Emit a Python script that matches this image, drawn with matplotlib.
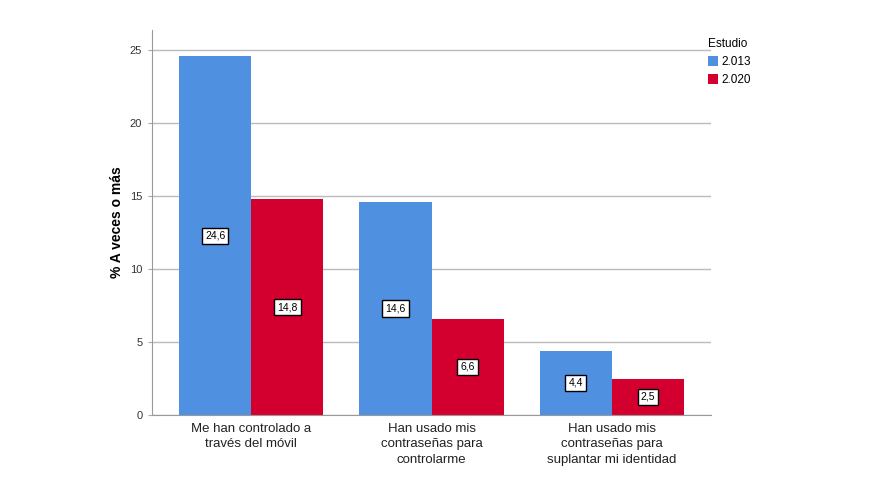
import numpy as np
import matplotlib
matplotlib.use("Agg")
import matplotlib.pyplot as plt

plt.rcParams["font.family"] = ["Liberation Sans", "DejaVu Sans"]

categories = [
    "Me han controlado a\ntravés del móvil",
    "Han usado mis\ncontraseñas para\ncontrolarme",
    "Han usado mis\ncontraseñas para\nsuplantar mi identidad",
]
series_names = ["2.013", "2.020"]
values_2013 = [24.6, 14.6, 4.4]
values_2020 = [14.8, 6.6, 2.5]
y_ticks = [0, 5, 10, 15, 20, 25]

colors = ["#4f91e0", "#d3002f"]
bar_w = 0.4

fig = plt.figure(figsize=(8.8, 4.95), dpi=100)
ax = fig.add_axes([0.1727, 0.1616, 0.6353, 0.7778])

x = np.arange(len(categories))
for i, (vals, name) in enumerate(zip([values_2013, values_2020], series_names)):
    pos = x + (i - 0.5) * bar_w
    ax.bar(pos, vals, width=bar_w, color=colors[i], label=name, zorder=2)
    for p, v in zip(pos, vals):
        ax.text(p, v / 2, f"{v:.1f}".replace(".", ","), ha="center", va="center",
                fontsize=7.5, zorder=3,
                bbox=dict(boxstyle="square,pad=0.3", fc="white", ec="black", lw=1.0))

ax.set_xlim(-0.55, 2.55)
ax.set_ylim(0, 26.4)
ax.set_yticks(y_ticks)
ax.set_yticklabels([str(t) for t in y_ticks], fontsize=8, color="#333333")
ax.yaxis.grid(True, color="#bbbbbb", lw=1, zorder=0)
ax.set_xticks(x)
ax.set_xticklabels(categories, fontsize=9.5, color="#222222", linespacing=1.35)
ax.tick_params(axis="x", length=0, pad=6)
ax.tick_params(axis="y", length=3, color="#aaaaaa", pad=4)
for s in ["top", "right"]:
    ax.spines[s].set_visible(False)
for s in ["left", "bottom"]:
    ax.spines[s].set_color("#999999")
ax.set_ylabel("% A veces o más", fontsize=10, fontweight="bold", labelpad=4)

leg = ax.legend(title="Estudio", loc="upper left", bbox_to_anchor=(0.98, 1.0),
                frameon=False, fontsize=8.5, title_fontsize=8.5, handlelength=0.85,
                handleheight=0.85, handletextpad=0.3, labelspacing=0.5,
                borderpad=0.2)
leg._legend_box.align = "left"

fig.savefig("out.png", dpi=100)
